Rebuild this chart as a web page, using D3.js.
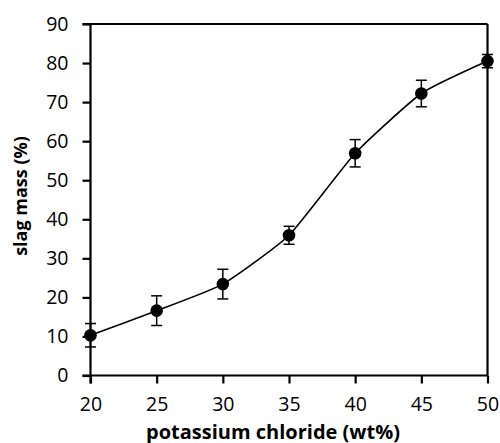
<!DOCTYPE html>
<html><head><meta charset="utf-8">
<script src="https://cdn.jsdelivr.net/npm/d3@7"></script>
<style>body{margin:0;background:#fff}svg{display:block}</style>
</head><body>
<svg id="c" width="500" height="443"></svg>
<script>
const kcl = [20, 25, 30, 35, 40, 45, 50];
const slagMass = [10.3, 16.6, 23.4, 35.9, 56.9, 72.2, 80.5];
const errors = [3.0, 3.8, 3.8, 2.3, 3.5, 3.4, 1.7];
const xTicks = [20, 25, 30, 35, 40, 45, 50];
const yTicks = [0, 10, 20, 30, 40, 50, 60, 70, 80, 90];
const xTitle = "potassium chloride (wt%)";
const yTitle = "slag mass (%)";

const svg = d3.select("#c");
const L = 90.5, R = 487.5, T = 24, B = 375.5;
const x = d3.scaleLinear().domain([20, 50]).range([L, R]);
const y = d3.scaleLinear().domain([0, 90]).range([B, T]);
const font = "'Open Sans', sans-serif";

// frame
svg.append("line").attr("x1", L - 8).attr("x2", R).attr("y1", T).attr("y2", T).attr("stroke", "#000").attr("stroke-width", 2.2);
svg.append("line").attr("x1", R).attr("x2", R).attr("y1", T).attr("y2", B).attr("stroke", "#000").attr("stroke-width", 2.2);

const yAxis = svg.append("g").attr("transform", `translate(${L},0)`)
  .call(d3.axisLeft(y).tickValues(yTicks).tickSize(8).tickPadding(14).tickFormat(d3.format("d")));
const xAxis = svg.append("g").attr("transform", `translate(0,${B})`)
  .call(d3.axisBottom(x).tickValues(xTicks).tickSize(8).tickPadding(14).tickFormat(d3.format("d")));
[yAxis, xAxis].forEach(g => {
  g.selectAll(".tick line").attr("stroke-width", 2.2);
  g.selectAll("text").attr("font-family", font).attr("font-size", 19.5).attr("fill", "#000");
});
yAxis.select(".domain").remove();
xAxis.select(".domain").remove();
svg.append("line").attr("x1", L).attr("x2", L).attr("y1", T).attr("y2", B + 8).attr("stroke", "#000").attr("stroke-width", 2.2);
svg.append("line").attr("x1", L - 8).attr("x2", R).attr("y1", B).attr("y2", B).attr("stroke", "#000").attr("stroke-width", 2.2);

const data = kcl.map((k, i) => ({x: k, y: slagMass[i], e: errors[i]}));

svg.append("path").datum(data)
  .attr("d", d3.line().x(d => x(d.x)).y(d => y(d.y)).curve(d3.curveCardinal.tension(0.5)))
  .attr("fill", "none").attr("stroke", "#000").attr("stroke-width", 1.6);

const eb = svg.append("g").attr("stroke", "#000").attr("stroke-width", 1.5);
data.forEach(d => {
  eb.append("line").attr("x1", x(d.x)).attr("x2", x(d.x)).attr("y1", y(d.y + d.e)).attr("y2", y(d.y - d.e));
  eb.append("line").attr("x1", x(d.x) - 5.5).attr("x2", x(d.x) + 5.5).attr("y1", y(d.y + d.e)).attr("y2", y(d.y + d.e));
  eb.append("line").attr("x1", x(d.x) - 5.5).attr("x2", x(d.x) + 5.5).attr("y1", y(d.y - d.e)).attr("y2", y(d.y - d.e));
});

svg.append("g").selectAll("circle").data(data).join("circle")
  .attr("cx", d => x(d.x)).attr("cy", d => y(d.y)).attr("r", 6.3).attr("fill", "#000");

svg.append("text").attr("x", 273).attr("y", 438.5).attr("text-anchor", "middle")
  .attr("font-family", font).attr("font-weight", "bold").attr("font-size", 20).text(xTitle);
svg.append("text").attr("transform", "translate(27,196) rotate(-90)").attr("text-anchor", "middle")
  .attr("font-family", font).attr("font-weight", "bold").attr("font-size", 18).text(yTitle);
</script>
</body></html>
